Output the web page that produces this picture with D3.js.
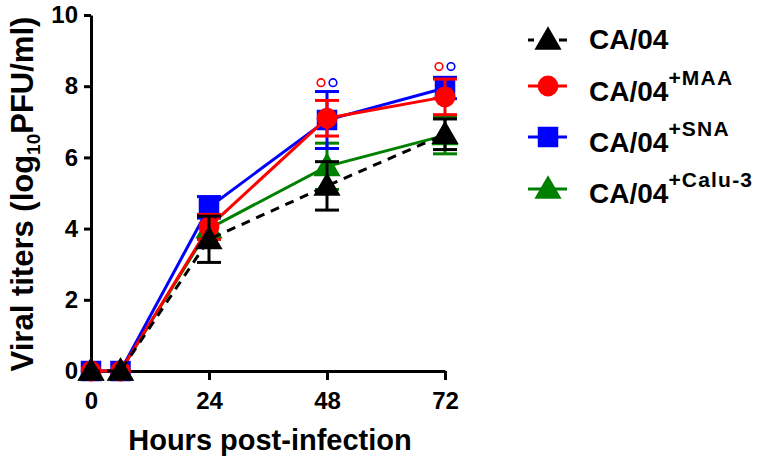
<!DOCTYPE html>
<html><head><meta charset="utf-8">
<script src="https://cdn.jsdelivr.net/npm/d3@7"></script>
<style>body{margin:0;background:#fff}svg{display:block}text{font-family:"Liberation Sans",Arial,sans-serif;font-weight:bold}</style>
</head><body><div id="chart"></div>
<script>
const hours = [0, 6, 24, 48, 72];
const xTicks = [0, 24, 48, 72];
const yTicks = [0, 2, 4, 6, 8, 10];
const seriesNames = ["CA/04", "CA/04+MAA", "CA/04+SNA", "CA/04+Calu-3"];
const ca04 = [0, 0, 3.7, 5.2, 6.65];
const ca04Err = [0, 0, 0.65, 0.68, 0.43];
const maa = [0, 0, 4.05, 7.1, 7.7];
const maaErr = [0, 0, 0.35, 0.5, 0.5];
const sna = [0, 0, 4.6, 7.05, 7.95];
const snaErr = [0, 0, 0.3, 0.8, 0.3];
const calu = [0, 0, 4.0, 5.75, 6.62];
const caluErr = [0, 0, 0.3, 0.65, 0.52];
const sigHours = [48, 72];
const sigValues = [8.1, 8.55];

const W = 759, H = 460;
const svg = d3.select("#chart").append("svg").attr("width", W).attr("height", H);
const x = d3.scaleLinear().domain([0, 72]).range([91, 445]);
const y = d3.scaleLinear().domain([0, 10]).range([371, 15]);

const series = [
  {name: "CA/04+Calu-3", base: "CA/04", sup: "+Calu-3", vals: calu, err: caluErr, color: "#008000", sym: "tri", dash: null},
  {name: "CA/04+SNA", base: "CA/04", sup: "+SNA", vals: sna, err: snaErr, color: "#0000ff", sym: "sq", dash: null},
  {name: "CA/04+MAA", base: "CA/04", sup: "+MAA", vals: maa, err: maaErr, color: "#ff0000", sym: "circ", dash: null},
  {name: "CA/04", base: "CA/04", sup: "", vals: ca04, err: ca04Err, color: "#000000", sym: "tri", dash: "9,7"}
];
function symPath(s) {
  if (s === "tri") return d3.symbol().type(d3.symbolTriangle).size(320)();
  if (s === "sq") return d3.symbol().type(d3.symbolSquare).size(420)();
  return d3.symbol().type(d3.symbolCircle).size(340)();
}

// axes
const yAxis = d3.axisLeft(y).tickValues(yTicks).tickSize(7).tickSizeOuter(0).tickPadding(6);
const gy = svg.append("g").attr("transform", "translate(91,0)").call(yAxis);
gy.selectAll("path,line").attr("stroke", "#000").attr("stroke-width", 3);
gy.selectAll("text").attr("font-size", 24).attr("fill", "#000").attr("font-family", '"Liberation Sans",Arial,sans-serif').attr("font-weight", "bold");

const xAxis = d3.axisBottom(x).tickValues(xTicks).tickSize(9).tickSizeOuter(0).tickPadding(12);
const gx = svg.append("g").attr("transform", "translate(0,371)").call(xAxis);
gx.selectAll("path,line").attr("stroke", "#000").attr("stroke-width", 3);
gx.selectAll("text").attr("font-size", 24).attr("fill", "#000").attr("font-family", '"Liberation Sans",Arial,sans-serif').attr("font-weight", "bold");

// axis titles
svg.append("text").attr("x", 270).attr("y", 450).attr("text-anchor", "middle").attr("font-size", 29).text("Hours post-infection");
const yt = svg.append("text").attr("transform", "translate(33,194) rotate(-90)").attr("text-anchor", "middle").attr("font-size", 31);
yt.append("tspan").text("Viral titers (log");
yt.append("tspan").attr("font-size", 19).attr("dy", 7).text("10");
yt.append("tspan").attr("dy", -7).text("PFU/ml)");

// series
const line = d3.line().x((d, i) => x(hours[i])).y(d => y(d));
series.forEach(s => {
  const g = svg.append("g");
  g.append("path").datum(s.vals).attr("d", line).attr("fill", "none").attr("stroke", s.color).attr("stroke-width", 3).attr("stroke-dasharray", s.dash);
  s.vals.forEach((v, i) => {
    const e = s.err[i];
    if (e > 0) {
      const cx = x(hours[i]);
      g.append("line").attr("x1", cx).attr("x2", cx).attr("y1", y(v - e)).attr("y2", y(v + e)).attr("stroke", s.color).attr("stroke-width", 3);
      [v - e, v + e].forEach(b => g.append("line").attr("x1", cx - 12).attr("x2", cx + 12).attr("y1", y(b)).attr("y2", y(b)).attr("stroke", s.color).attr("stroke-width", 3));
    }
  });
  g.selectAll("path.m").data(s.vals).enter().append("path").attr("class", "m")
    .attr("d", symPath(s.sym)).attr("fill", s.color)
    .attr("transform", (d, i) => `translate(${x(hours[i])},${y(d) + (s.sym === "tri" ? 2 : 0)})`);
});

// significance markers
sigHours.forEach((h, i) => {
  [["#ff0000", -6], ["#0000ff", 6]].forEach(([c, dx]) => {
    svg.append("circle").attr("cx", x(h) + dx).attr("cy", y(sigValues[i])).attr("r", 3.8).attr("fill", "none").attr("stroke", c).attr("stroke-width", 1.6);
  });
});

// legend
const legendOrder = [series[3], series[2], series[1], series[0]];
const symY = [40, 86, 137, 189];
const baseY = [49, 101, 152, 203];
legendOrder.forEach((s, i) => {
  const g = svg.append("g");
  g.append("line").attr("x1", 528).attr("x2", 567).attr("y1", symY[i]).attr("y2", symY[i]).attr("stroke", s.color).attr("stroke-width", 3).attr("stroke-dasharray", s.dash ? "6,25,8" : null);
  g.append("path").attr("d", symPath(s.sym)).attr("fill", s.color).attr("transform", `translate(548,${symY[i] + (s.sym === "tri" ? 2 : 0)})`);
  const t = g.append("text").attr("x", 589).attr("y", baseY[i]).attr("font-size", 28).attr("fill", "#000");
  t.append("tspan").text(s.base);
  if (s.sup) t.append("tspan").attr("font-size", 21).attr("letter-spacing", 1.2).attr("dy", -16).text(s.sup);
});
</script></body></html>
